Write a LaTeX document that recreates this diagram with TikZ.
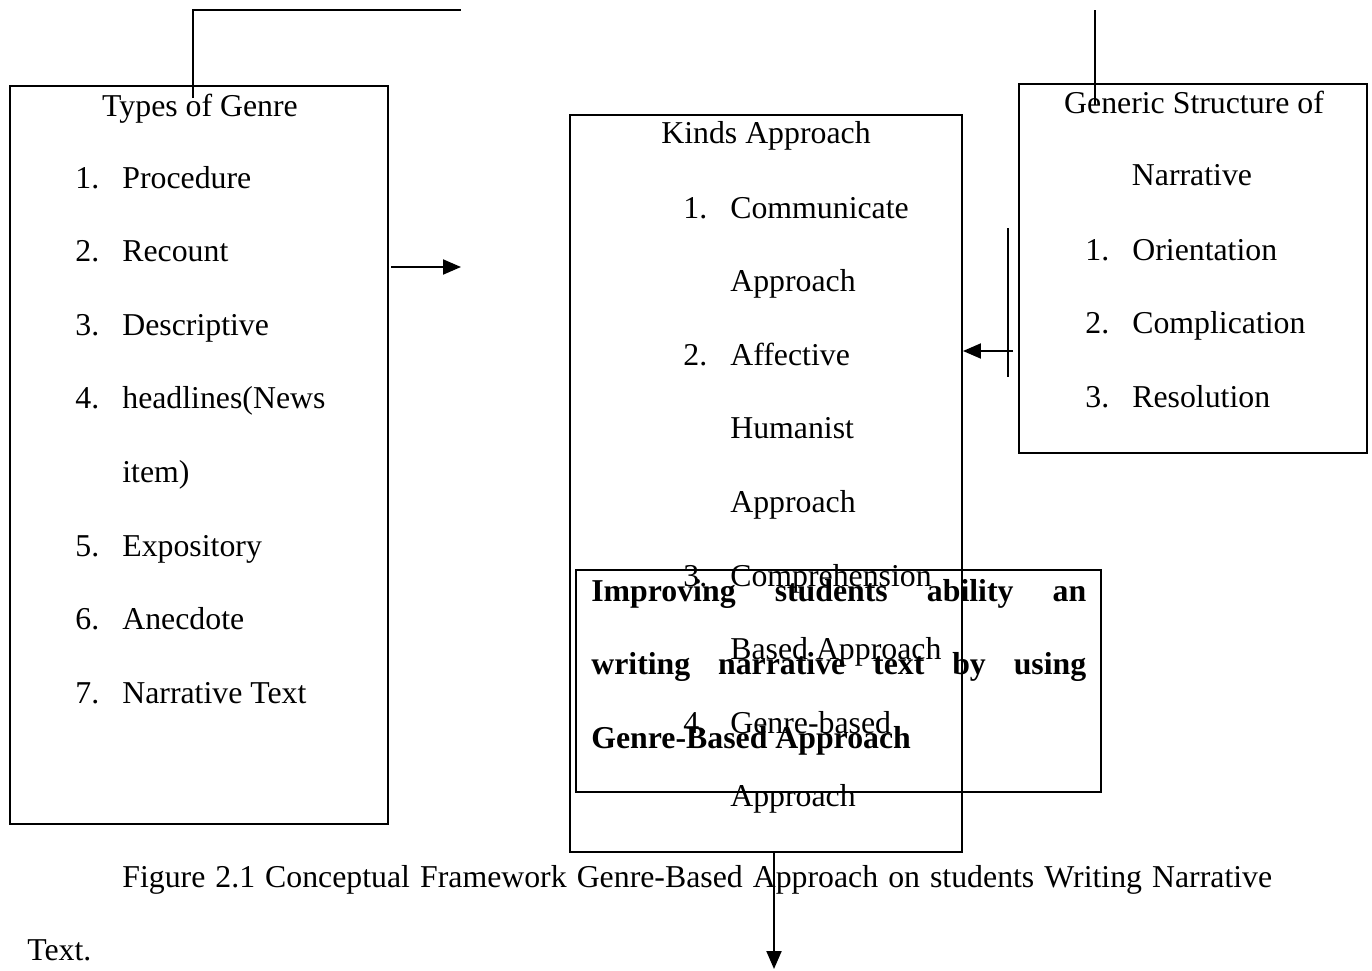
\documentclass[tikz,border=0pt]{standalone}
\usepackage{fontspec}
\setmainfont{Liberation Serif}
\usetikzlibrary{positioning,arrows.meta}

\begin{document}
\begin{tikzpicture}[x=0.02cm,y=-0.02cm,
	every node/.style={inner sep=0pt,font=\fontsize{18.1}{21}\selectfont},
	box/.style={draw,line width=1.15pt},
	ttl/.style={anchor=base},
	txt/.style={anchor=base west},
	bld/.style={anchor=base west,font=\fontsize{18.1}{21}\selectfont\bfseries},
	ln/.style={line width=1.15pt},
	arr/.style={line width=1.15pt,-{Triangle[length=0.36cm,width=0.3cm]}}]

\useasboundingbox (0,0) rectangle (1372,970);

\node[box,minimum width=7.56cm,minimum height=14.76cm](genre) at (199,455) {};
\node[box,minimum width=7.84cm,minimum height=14.74cm](kinds) at (766,483.5) {};
\node[box,minimum width=6.96cm,minimum height=7.38cm](struct) at (1193,268.5) {};
\node[box,minimum width=10.5cm,minimum height=4.44cm](goal) at (838.5,681) {};

% types of genre
\node[ttl](gt) at (200,116) {Types of Genre};
\foreach \n/\t/\y [count=\i] in {1./Procedure/188,2./Recount/261.6,3./Descriptive/335.2,4./headlines(News/408.8,/item)/482.4,5./Expository/556,6./Anecdote/629.6,7./Narrative Text/703.2}{
	\node[txt](gn\i) at (75,\y) {\n};
	\node[txt](g\i) at (122,\y) {\t};
}

% kinds approach
\node[ttl](kt) at (766,143) {Kinds Approach};
\foreach \n/\t/\y [count=\i] in {1./Communicate/218,/Approach/291.6,2./Affective/365.2,/Humanist/438.8,/Approach/512.4,3./Comprehension/586,/Based Approach/659.6,4./Genre-based/733.2,/Approach/806.8}{
	\node[txt](kn\i) at (683,\y) {\n};
	\node[txt](k\i) at (730,\y) {\t};
}

% generic structure
\node[ttl](st1) at (1194,113) {Generic Structure of};
\node[ttl](st2) at (1192,185) {Narrative};
\foreach \n/\t/\y [count=\i] in {1./Orientation/260,2./Complication/333.6,3./Resolution/407.2}{
	\node[txt](sn\i) at (1085,\y) {\n};
	\node[txt](s\i) at (1132,\y) {\t};
}

% goal
\foreach \t/\y [count=\i] in {Improving students ability an/601,writing narrative text by using/674.6}{
	\node[bld](goal\i) at (591,\y) {\makebox[9.9cm][s]{\t}};
}
\node[bld](goal3) at (591,748.2) {Genre-Based Approach};

% caption
\node[txt](cap1) at (122,887) {\makebox[23cm][s]{Figure 2.1 Conceptual Framework Genre-Based Approach on students Writing Narrative}};
\node[txt](cap2) at (27,960) {Text.};

% lines
\coordinate(c1) at (193,98);
\coordinate(c2) at (461,10);
\draw[ln](c1)|-(c2);
\coordinate(c3) at (1095,10);
\coordinate(c4) at (1095,105);
\draw[ln](c3)--(c4);
\coordinate(c5) at (1008,228);
\coordinate(c6) at (1008,377);
\draw[ln](c5)--(c6);

% arrows
\coordinate(a1) at (391,267);
\coordinate(a2) at (461,267);
\draw[arr](a1)--(a2);
\coordinate(a3) at (1013,351);
\draw[arr](a3)--(a3 -| kinds.east);
\coordinate(a4) at (774,969);
\draw[arr](a4 |- kinds.south)--(a4);

\end{tikzpicture}
\end{document}
